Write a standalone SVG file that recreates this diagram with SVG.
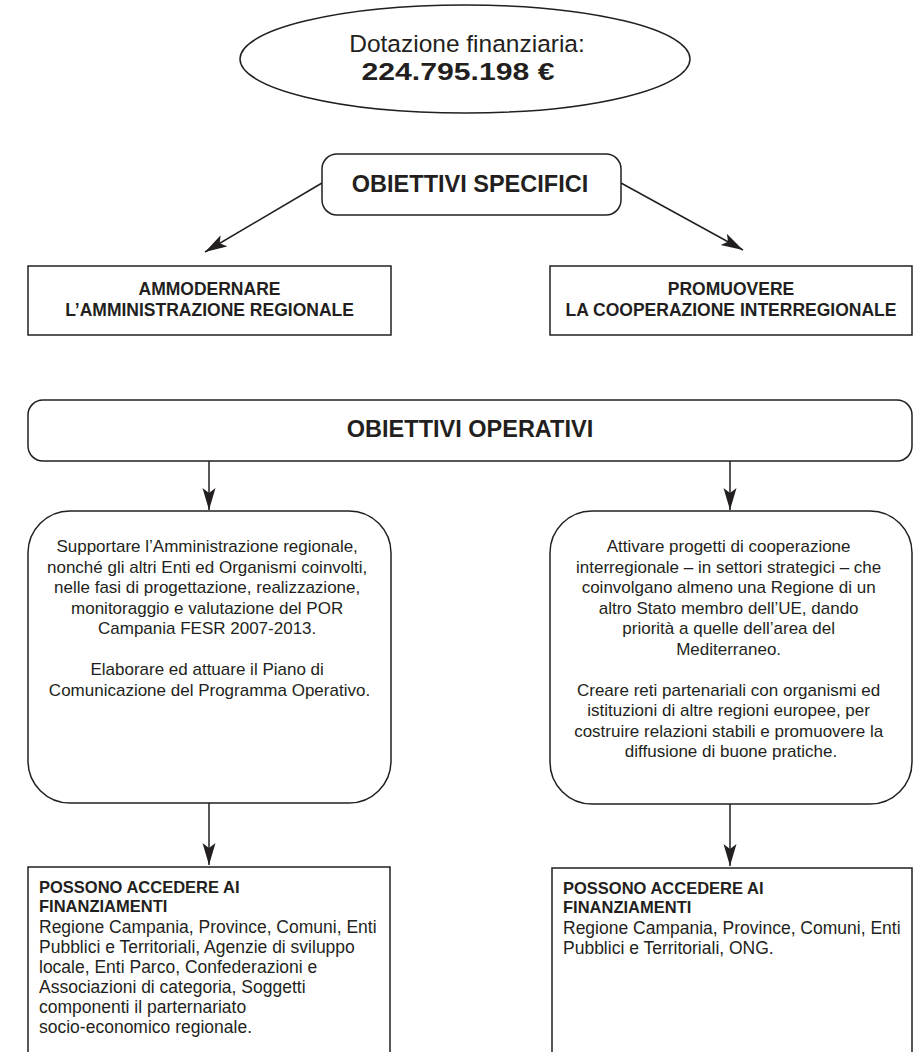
<svg xmlns="http://www.w3.org/2000/svg" width="913" height="1052" viewBox="0 0 913 1052">
<defs>
<style>
.ln{fill:none;stroke:#231f20;stroke-width:1.5}
.bx{fill:#fff;stroke:#231f20;stroke-width:1.5}
.t{font-family:"Liberation Sans",Arial,sans-serif;fill:#231f20}
.b{font-weight:bold}
.c{text-anchor:middle}
.r17{font-size:17px}
.r175{font-size:17.5px}
</style>
<marker id="ah" markerUnits="userSpaceOnUse" markerWidth="24" markerHeight="14" refX="22" refY="7" orient="auto">
<path d="M0,0.5 L22,7 L0,13.5 L5,7 z" fill="#231f20"/>
</marker>
</defs>
<rect width="913" height="1052" fill="#fff"/>

<g id="connectors">
<line class="ln" x1="322" y1="183" x2="205" y2="252" marker-end="url(#ah)"/>
<line class="ln" x1="621" y1="183" x2="743" y2="250" marker-end="url(#ah)"/>
<line class="ln" x1="209" y1="461" x2="209" y2="510" marker-end="url(#ah)"/>
<line class="ln" x1="730" y1="461" x2="730" y2="510" marker-end="url(#ah)"/>
<line class="ln" x1="209" y1="803" x2="209" y2="865" marker-end="url(#ah)"/>
<line class="ln" x1="730" y1="804" x2="730" y2="866" marker-end="url(#ah)"/>
</g>

<g id="dotazione">
<ellipse class="bx" cx="465" cy="59" rx="225" ry="54"/>
<text class="t c" x="467" y="52" font-size="24.5">Dotazione finanziaria:</text>
<text class="t c b" x="458" y="80" font-size="23.5" textLength="193" lengthAdjust="spacingAndGlyphs">224.795.198 €</text>
</g>

<g id="obiettivi-specifici">
<rect class="bx" x="322" y="154" width="299" height="61" rx="15"/>
<text class="t c b" x="470" y="192" font-size="23.5">OBIETTIVI SPECIFICI</text>
</g>

<g id="ammodernare">
<rect class="bx" x="28" y="266" width="363" height="69"/>
<text class="t c b" x="209.5" y="295" font-size="17.5">AMMODERNARE</text>
<text class="t c b" x="209.5" y="316" font-size="17.5">L’AMMINISTRAZIONE REGIONALE</text>
</g>

<g id="promuovere">
<rect class="bx" x="550" y="266" width="362" height="69"/>
<text class="t c b" x="731" y="295" font-size="17.5">PROMUOVERE</text>
<text class="t c b" x="731" y="316" font-size="17.5">LA COOPERAZIONE INTERREGIONALE</text>
</g>

<g id="obiettivi-operativi">
<rect class="bx" x="28" y="400" width="884" height="61" rx="15"/>
<text class="t c b" x="470" y="437" font-size="23.5">OBIETTIVI OPERATIVI</text>
</g>

<g id="op-sx">
<rect class="bx" x="28" y="511" width="363" height="292" rx="42"/>
<text class="t c r17" x="209.5">
<tspan x="209.5" y="552">Supportare l’Amministrazione regionale,</tspan>
<tspan x="209.5" y="572.5">nonché gli altri Enti ed Organismi coinvolti,</tspan>
<tspan x="209.5" y="593">nelle fasi di progettazione, realizzazione,</tspan>
<tspan x="209.5" y="613.5">monitoraggio e valutazione del POR</tspan>
<tspan x="209.5" y="634">Campania FESR 2007-2013.</tspan>
<tspan x="209.5" y="675">Elaborare ed attuare il Piano di</tspan>
<tspan x="209.5" y="695.5">Comunicazione del Programma Operativo.</tspan>
</text>
</g>

<g id="op-dx">
<rect class="bx" x="550" y="511" width="362" height="293" rx="42"/>
<text class="t c r17" x="731">
<tspan x="731" y="552">Attivare progetti di cooperazione</tspan>
<tspan x="731" y="572.5">interregionale – in settori strategici – che</tspan>
<tspan x="731" y="593">coinvolgano almeno una Regione di un</tspan>
<tspan x="731" y="613.5">altro Stato membro dell’UE, dando</tspan>
<tspan x="731" y="634">priorità a quelle dell’area del</tspan>
<tspan x="731" y="654.5">Mediterraneo.</tspan>
<tspan x="731" y="695.5">Creare reti partenariali con organismi ed</tspan>
<tspan x="731" y="716">istituzioni di altre regioni europee, per</tspan>
<tspan x="731" y="736.5">costruire relazioni stabili e promuovere la</tspan>
<tspan x="731" y="757">diffusione di buone pratiche.</tspan>
</text>
</g>

<g id="fin-sx">
<path class="bx" d="M28,1053 L28,867 L390,867 L390,1053"/>
<text class="t b" font-size="16.5">
<tspan x="39" y="893">POSSONO ACCEDERE AI</tspan>
<tspan x="39" y="912">FINANZIAMENTI</tspan>
</text>
<text class="t r175">
<tspan x="39" y="933">Regione Campania, Province, Comuni, Enti</tspan>
<tspan x="39" y="953">Pubblici e Territoriali, Agenzie di sviluppo</tspan>
<tspan x="39" y="973">locale, Enti Parco, Confederazioni e</tspan>
<tspan x="39" y="993">Associazioni di categoria, Soggetti</tspan>
<tspan x="39" y="1013">componenti il parternariato</tspan>
<tspan x="39" y="1033">socio-economico regionale.</tspan>
</text>
</g>

<g id="fin-dx">
<path class="bx" d="M552,1053 L552,868 L912,868 L912,1053"/>
<text class="t b" font-size="16.5">
<tspan x="563" y="894">POSSONO ACCEDERE AI</tspan>
<tspan x="563" y="913">FINANZIAMENTI</tspan>
</text>
<text class="t r175">
<tspan x="563" y="934">Regione Campania, Province, Comuni, Enti</tspan>
<tspan x="563" y="954">Pubblici e Territoriali, ONG.</tspan>
</text>
</g>
</svg>
